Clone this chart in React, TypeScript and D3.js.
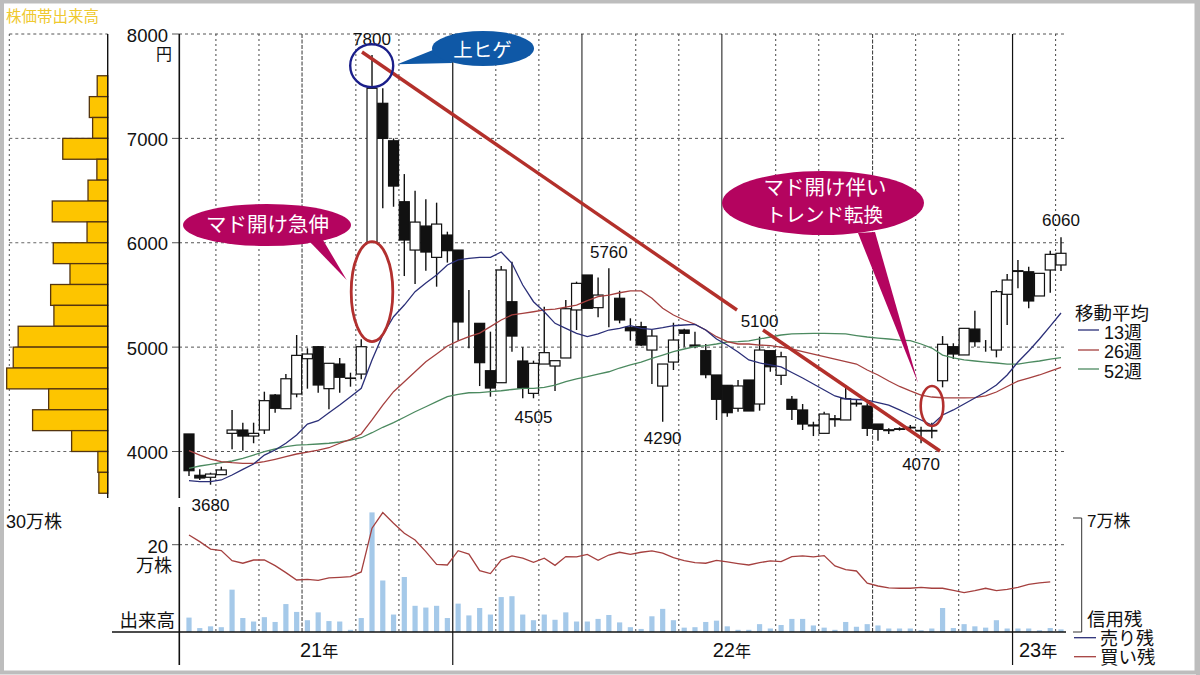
import * as d3 from "d3";

const FONT = "'Liberation Sans','Noto Sans CJK JP',sans-serif";

// weekly candles: open, high, low, close
const candles: number[][] = [
  [4168, 4168, 3765, 3816], [3772, 3829, 3727, 3746], [3753, 3797, 3682, 3784], [3778, 3854, 3778, 3823],
  [4174, 4398, 4021, 4206], [4206, 4276, 4008, 4148], [4148, 4276, 4079, 4174], [4206, 4573, 4168, 4487],
  [4541, 4551, 4372, 4414], [4410, 4742, 4410, 4697], [4551, 5116, 4519, 4921], [4889, 4989, 4602, 4934],
  [5004, 5011, 4563, 4637], [4602, 4845, 4404, 4845], [4838, 4896, 4563, 4711], [4704, 4755, 4621, 4700],
  [4742, 5075, 4692, 5004], [6005, 7800, 6005, 7480], [7336, 7480, 6330, 7000], [6977, 7000, 6345, 6543],
  [6393, 6658, 5681, 6026], [5930, 6498, 5605, 6198], [6160, 6416, 5732, 5911], [5860, 6384, 5579, 6179],
  [6074, 6106, 5810, 5924], [5930, 5930, 5061, 5241], [5000, 5547, 4989, 5000], [5228, 5228, 4627, 4851],
  [4774, 5148, 4525, 4608], [4659, 5777, 4659, 5739], [5435, 5818, 4956, 5106], [4867, 4998, 4510, 4608],
  [4557, 4870, 4510, 4845], [4838, 5387, 4838, 4947], [4819, 4870, 4580, 4870], [4896, 5451, 4896, 5368],
  [5356, 5627, 5164, 5611], [5691, 5691, 5372, 5372], [5378, 5668, 5286, 5499], [5480, 5755, 5190, 5480],
  [5468, 5540, 5228, 5260], [5190, 5276, 5062, 5157], [5196, 5243, 5011, 5020], [4972, 5164, 4647, 5106],
  [4627, 4838, 4285, 4838], [4857, 5234, 4781, 5068], [5164, 5176, 5004, 5132], [5020, 5148, 4989, 5010],
  [4966, 5030, 4701, 4736], [4733, 4733, 4302, 4500], [4634, 4634, 4333, 4372], [4414, 4685, 4381, 4628],
  [4685, 4685, 4388, 4388], [4455, 5100, 4391, 4972], [4966, 4966, 4764, 4812], [4730, 4956, 4637, 4908],
  [4500, 4532, 4302, 4404], [4398, 4455, 4206, 4263], [4254, 4285, 4148, 4245], [4174, 4381, 4174, 4359],
  [4314, 4350, 4238, 4305], [4302, 4637, 4302, 4506], [4462, 4494, 4430, 4455], [4436, 4462, 4148, 4222],
  [4263, 4263, 4103, 4212], [4208, 4222, 4168, 4200], [4218, 4232, 4200, 4212], [4232, 4254, 4206, 4226],
  [4202, 4238, 4079, 4196], [4202, 4276, 4126, 4196], [4678, 5106, 4615, 5027], [5004, 5037, 4886, 4934],
  [4925, 5180, 4925, 5180], [5173, 5349, 5004, 5052], [5010, 5068, 4956, 5010], [4972, 5547, 4902, 5531],
  [5506, 5700, 5212, 5643], [5732, 5835, 5563, 5725], [5722, 5770, 5372, 5442], [5490, 5707, 5490, 5707],
  [5739, 5924, 5521, 5889], [5787, 6052, 5729, 5899],
];

const ma13 = [
  3720, 3711, 3711, 3727, 3775, 3829, 3880, 3966, 4014, 4079, 4158, 4263, 4295, 4372, 4445, 4525, 4605, 4877, 5116, 5291,
  5403, 5531, 5614, 5691, 5787, 5835, 5851, 5860, 5860, 5911, 5803, 5595, 5435, 5339, 5228, 5180, 5132, 5100, 5126, 5164,
  5180, 5205, 5180, 5170, 5186, 5205, 5212, 5218, 5164, 5078, 5020, 4953, 4877, 4848, 4829, 4810, 4757, 4704, 4647, 4589,
  4532, 4503, 4498, 4493, 4469, 4445, 4398, 4350, 4302, 4254, 4350, 4398, 4455, 4513, 4570, 4637, 4733, 4857, 4963, 5078,
  5202, 5327,
];
const ma26 = [
  4008, 3966, 3928, 3902, 3893, 3887, 3887, 3902, 3925, 3950, 3976, 3995, 4014, 4036, 4079, 4117, 4168, 4302, 4445, 4573,
  4669, 4764, 4860, 4934, 5011, 5059, 5100, 5135, 5196, 5260, 5308, 5324, 5339, 5356, 5365, 5384, 5403, 5445, 5483, 5499,
  5521, 5538, 5538, 5468, 5372, 5308, 5260, 5219, 5164, 5100, 5052, 5030, 5030, 5020, 5015, 5001, 4982, 4958, 4934, 4910,
  4886, 4862, 4838, 4781, 4733, 4675, 4623, 4580, 4541, 4522, 4515, 4513, 4513, 4517, 4532, 4570, 4623, 4675, 4704, 4733,
  4771, 4805,
];
const ma52 = [
  3839, 3861, 3877, 3893, 3909, 3935, 3966, 3998, 4024, 4046, 4062, 4065, 4072, 4079, 4091, 4110, 4132, 4180, 4232, 4276,
  4328, 4381, 4429, 4477, 4525, 4548, 4563, 4565, 4573, 4582, 4594, 4605, 4605, 4615, 4637, 4669, 4695, 4717, 4742, 4764,
  4800, 4829, 4857, 4893, 4924, 4956, 4982, 5004, 5015, 5030, 5049, 5052, 5059, 5078, 5097, 5116, 5126, 5130, 5132, 5132,
  5130, 5126, 5111, 5097, 5087, 5078, 5068, 5062, 5030, 4991, 4924, 4896, 4877, 4867, 4857, 4848, 4838, 4838, 4853, 4867,
  4886, 4899,
];

// 万株
const volume = [
  3.3, 0.9, 1.3, 1.1, 9.7, 3.2, 2.4, 3.4, 2.3, 6.4, 4.6, 2.7, 4.5, 2.5, 2.4, 0.5, 3.2, 27.4, 11.8, 4.0,
  12.6, 6.0, 5.6, 6.0, 3.2, 6.5, 3.8, 5.5, 4.0, 8.0, 8.2, 4.0, 2.7, 4.0, 2.8, 4.5, 2.4, 2.4, 3.0, 3.9,
  2.2, 1.1, 0.7, 3.6, 5.3, 2.7, 1.0, 1.1, 2.3, 2.6, 1.3, 0.5, 0.5, 1.8, 0.8, 1.6, 3.0, 3.0, 1.5, 1.0,
  0.5, 2.3, 1.2, 1.8, 1.5, 0.8, 0.8, 0.8, 0.4, 0.8, 5.5, 0.9, 1.8, 1.3, 1.0, 2.7, 0.8, 0.8, 0.8, 0.4,
  0.9, 0.6,
];
const marginBuy = [
  6.01, 5.6, 5.14, 5.04, 4.42, 4.26, 4.46, 4.46, 4.11, 3.68, 3.22, 3.26, 3.2, 3.35, 3.39, 3.43, 3.72, 6.43, 7.4, 6.74,
  6.12, 5.7, 4.98, 4.19, 4.15, 5.04, 4.83, 3.8, 3.62, 4.46, 4.71, 4.57, 4.32, 4.57, 4.13, 4.67, 4.65, 4.81, 4.44, 4.77,
  4.94, 4.81, 4.94, 5.02, 4.88, 4.61, 4.42, 4.3, 4.26, 4.44, 4.34, 4.24, 4.15, 4.3, 4.4, 4.36, 4.67, 4.71, 4.65, 4.73,
  4.09, 3.86, 3.78, 3.02, 2.85, 2.73, 2.71, 2.71, 2.77, 2.71, 2.71, 2.58, 2.44, 2.56, 2.71, 2.56, 2.64, 2.77, 2.95, 3.04,
  3.1,
];

// price-band volume, 200 yen bands from 7600 down to 3600
const bandTops = [7600, 7400, 7200, 7000, 6800, 6600, 6400, 6200, 6000, 5800, 5600, 5400, 5200, 5000, 4800, 4600, 4400, 4200, 4000, 3800];
const bandVolume = [3.2, 5.6, 4.6, 13.7, 3.3, 6.0, 16.9, 6.3, 16.6, 11.5, 17.4, 16.4, 27.3, 28.8, 30.8, 18.0, 22.9, 11.0, 3.0, 2.7];

const priceTicks = [8000, 7000, 6000, 5000, 4000];
const monthBreaks = [2.5, 6.5, 15.5, 19.5, 28.5, 32.5, 41.5, 45.5, 54.5, 58.5, 67.5, 71.5, 80.5];
const dashedBreaks = [10.5, 63.5];
const solidBreaks = [36.5, 49.5];
const yearBreaks = [24.5, 76.5];

const priceLabels: [string, number, number, number][] = [
  ["7800", 17, 7800, -10],
  ["3680", 2, 3680, 26],
  ["4505", 32, 4505, 24],
  ["5760", 39, 5760, -10],
  ["4290", 44, 4290, 23],
  ["5100", 53, 5100, -10],
  ["4070", 68, 4070, 26],
  ["6060", 81, 6060, -10],
];

const x = d3.scaleLinear().domain([0, 81]).range([189, 1061]);
const y = d3.scaleLinear().domain([4000, 8000]).range([451.5, 34]);
const yVol = d3.scaleLinear().domain([0, 20]).range([632, 544.7]);
const yMargin = d3.scaleLinear().domain([0, 7]).range([632, 519]);
const xBand = d3.scaleLinear().domain([0, 30]).range([107.7, 9.3]);

const priceLine = d3.line<number>().x((_, i) => x(i)).y((d) => y(d));
const marginLine = d3.line<number>().x((_, i) => x(i)).y((d) => yMargin(d));

const INK = "#111";
const RED = "#a5403f";
const NAVY = "#2b2f78";
const GREEN = "#4c8a60";
const CRIMSON = "#b4045f";
const TREND = "#b3302b";

function Label({ x, y, size = 17, anchor = "start", fill = INK, children }: any) {
  return (
    <text x={x} y={y} fontSize={size} textAnchor={anchor} fill={fill} fontFamily={FONT}>
      {children}
    </text>
  );
}

export default function App() {
  const top = y(8000);
  const base = yVol(0);
  return (
    <svg width={1200} height={675} style={{ position: "absolute", left: 0, top: 0, background: "#fff" }}>
      {/* grey frame */}
      <rect x={2} y={1.5} width={1194.5} height={671} fill="none" stroke="#bdbdbd" strokeWidth={4} />
      <rect x={1196} y={0} width={4} height={675} fill="#bdbdbd" />

      {/* price band volume */}
      <Label x={6} y={22} size={15.5} fill="#efc92f">株価帯出来高</Label>
      <line x1={9.3} x2={107.7} y1={top} y2={top} stroke="#555" strokeWidth={1} strokeDasharray="3 3" />
      <line x1={9.3} x2={9.3} y1={top} y2={512} stroke="#555" strokeWidth={1} strokeDasharray="2 3" />
      {priceTicks.slice(1).map((p) => (
        <line key={p} x1={9.3} x2={107.7} y1={y(p)} y2={y(p)} stroke="#666" strokeWidth={1} strokeDasharray="3 3" />
      ))}
      {bandTops.map((p, i) => (
        <rect
          key={p}
          x={xBand(bandVolume[i])}
          y={y(p)}
          width={xBand(0) - xBand(bandVolume[i])}
          height={y(p - 200) - y(p)}
          fill="#fdc500"
          stroke="#54350f"
          strokeWidth={1.3}
        />
      ))}
      <line x1={107.7} x2={107.7} y1={top} y2={498} stroke={INK} strokeWidth={1.4} />
      <Label x={6} y={528} size={18}>30万株</Label>

      {/* grid */}
      {priceTicks.map((p) => (
        <g key={p}>
          <line x1={172} x2={179} y1={y(p)} y2={y(p)} stroke="#555" strokeWidth={1} />
          <line x1={179} x2={1065} y1={y(p)} y2={y(p)} stroke="#555" strokeWidth={1} strokeDasharray="3 3" />
          <Label x={168} y={y(p) + 7.5} size={18.5} anchor="end">{p}</Label>
        </g>
      ))}
      <Label x={172} y={60} size={16} anchor="end">円</Label>
      <line x1={172} x2={179} y1={yVol(20)} y2={yVol(20)} stroke="#555" strokeWidth={1} />
      <line x1={179} x2={1065} y1={yVol(20)} y2={yVol(20)} stroke="#555" strokeWidth={1} strokeDasharray="3 3" />
      <Label x={168} y={553} size={18.5} anchor="end">20</Label>
      <Label x={172} y={572} size={18} anchor="end">万株</Label>
      <Label x={175} y={627} size={18.5} anchor="end">出来高</Label>

      {monthBreaks.map((m) => (
        <line key={m} x1={x(m)} x2={x(m)} y1={top} y2={base} stroke="#444" strokeWidth={1} strokeDasharray="2 3" />
      ))}
      {dashedBreaks.map((m) => (
        <line key={m} x1={x(m)} x2={x(m)} y1={top} y2={base} stroke="#333" strokeWidth={1} strokeDasharray="4 1.5" />
      ))}
      {solidBreaks.map((m) => (
        <line key={m} x1={x(m)} x2={x(m)} y1={top} y2={base} stroke={INK} strokeWidth={1} />
      ))}
      {yearBreaks.map((m) => (
        <line key={m} x1={x(m)} x2={x(m)} y1={top} y2={665} stroke={INK} strokeWidth={1.2} />
      ))}
      <line x1={179.3} x2={179.3} y1={top} y2={498} stroke={INK} strokeWidth={1.6} />
      <line x1={179.3} x2={179.3} y1={507} y2={665} stroke={INK} strokeWidth={1.6} />

      {/* volume and margin balance */}
      {volume.map((v, i) => (
        <rect key={i} x={x(i) - 2.6} y={yVol(v)} width={5.2} height={yVol(0) - yVol(v)} fill="#a5c9e9" />
      ))}
      <path d={marginLine(marginBuy) ?? ""} fill="none" stroke={RED} strokeWidth={1.3} />
      <line x1={112} x2={1066} y1={base} y2={base} stroke={INK} strokeWidth={1.6} />

      {/* candles */}
      {candles.map(([o, h, l, c], i) => {
        const bodyTop = y(Math.max(o, c));
        const bodyH = Math.abs(y(o) - y(c));
        const up = c > o;
        return (
          <g key={i}>
            <line x1={x(i)} x2={x(i)} y1={y(h)} y2={y(l)} stroke={INK} strokeWidth={1.4} />
            {o !== c && (
              <rect x={x(i) - 5} y={bodyTop} width={10} height={bodyH} fill={up ? "#fff" : INK} stroke={INK} strokeWidth={1.2} />
            )}
          </g>
        );
      })}

      {/* moving averages */}
      <path d={priceLine(ma52) ?? ""} fill="none" stroke={GREEN} strokeWidth={1.3} />
      <path d={priceLine(ma26) ?? ""} fill="none" stroke={RED} strokeWidth={1.3} />
      <path d={priceLine(ma13) ?? ""} fill="none" stroke={NAVY} strokeWidth={1.3} />

      {priceLabels.map(([t, i, p, dy]) => (
        <Label key={t} x={x(i)} y={y(p) + dy} anchor="middle">{t}</Label>
      ))}

      {/* trend lines */}
      <line x1={362} y1={52} x2={737} y2={310} stroke={TREND} strokeWidth={3.4} />
      <line x1={763} y1={330} x2={940} y2={451} stroke={TREND} strokeWidth={3.4} />

      {/* marks */}
      <circle cx={371.7} cy={65.7} r={21.5} fill="none" stroke="#1b1f8a" strokeWidth={2.4} />
      <ellipse cx={372} cy={291.7} rx={20.8} ry={50} fill="none" stroke="#b2302f" strokeWidth={2.8} />
      <ellipse cx={932} cy={406} rx={11.3} ry={20} fill="none" stroke="#b2302f" strokeWidth={2.6} />

      {/* callouts */}
      <path d="M433,50 L397.3,64.3 L453,63 Z" fill="#0f58a6" />
      <ellipse cx={483} cy={48.5} rx={51} ry={17.5} fill="#0f58a6" />
      <Label x={482.5} y={56.7} size={19.5} anchor="middle" fill="#fff">上ヒゲ</Label>

      <path d="M310,242 L346.7,280 L323,240 Z" fill={CRIMSON} />
      <ellipse cx={267} cy={225} rx={84} ry={21} fill={CRIMSON} />
      <Label x={267.5} y={232} size={20.5} anchor="middle" fill="#fff">マド開け急伸</Label>

      <path d="M858,233 L918,383 L875,232 Z" fill={CRIMSON} />
      <ellipse cx={823} cy={203} rx={101} ry={32} fill={CRIMSON} />
      <Label x={825} y={195} size={20.5} anchor="middle" fill="#fff">マド開け伴い</Label>
      <Label x={824.5} y={222} size={19.5} anchor="middle" fill="#fff">トレンド転換</Label>

      {/* legend */}
      <Label x={1075} y={320} size={18.5}>移動平均</Label>
      {[["13週", NAVY, 339, 330], ["26週", RED, 358, 350], ["52週", GREEN, 378, 369]].map(([t, col, ty, ly]: any) => (
        <g key={t}>
          <line x1={1078} x2={1099} y1={ly} y2={ly} stroke={col} strokeWidth={1.3} />
          <Label x={1104} y={ty} size={18}>{t}</Label>
        </g>
      ))}

      {/* right bracket and margin legend */}
      <path d="M1073,518 H1081.7 V632 H1073" fill="none" stroke="#333" strokeWidth={1} />
      <Label x={1087} y={527} size={17}>7万株</Label>
      <Label x={1087} y={626} size={18.5}>信用残</Label>
      <line x1={1074} x2={1096} y1={637.7} y2={637.7} stroke={NAVY} strokeWidth={1.3} />
      <Label x={1100} y={645} size={18}>売り残</Label>
      <line x1={1074} x2={1096} y1={656.7} y2={656.7} stroke={RED} strokeWidth={1.3} />
      <Label x={1100} y={664} size={18.5}>買い残</Label>

      {/* years */}
      {[["21", 300], ["22", 712.7], ["23", 1019]].map(([yr, px]: any) => (
        <Label key={yr} x={px} y={657} size={20}>
          {yr}
          <tspan fontSize={16}>年</tspan>
        </Label>
      ))}
    </svg>
  );
}
